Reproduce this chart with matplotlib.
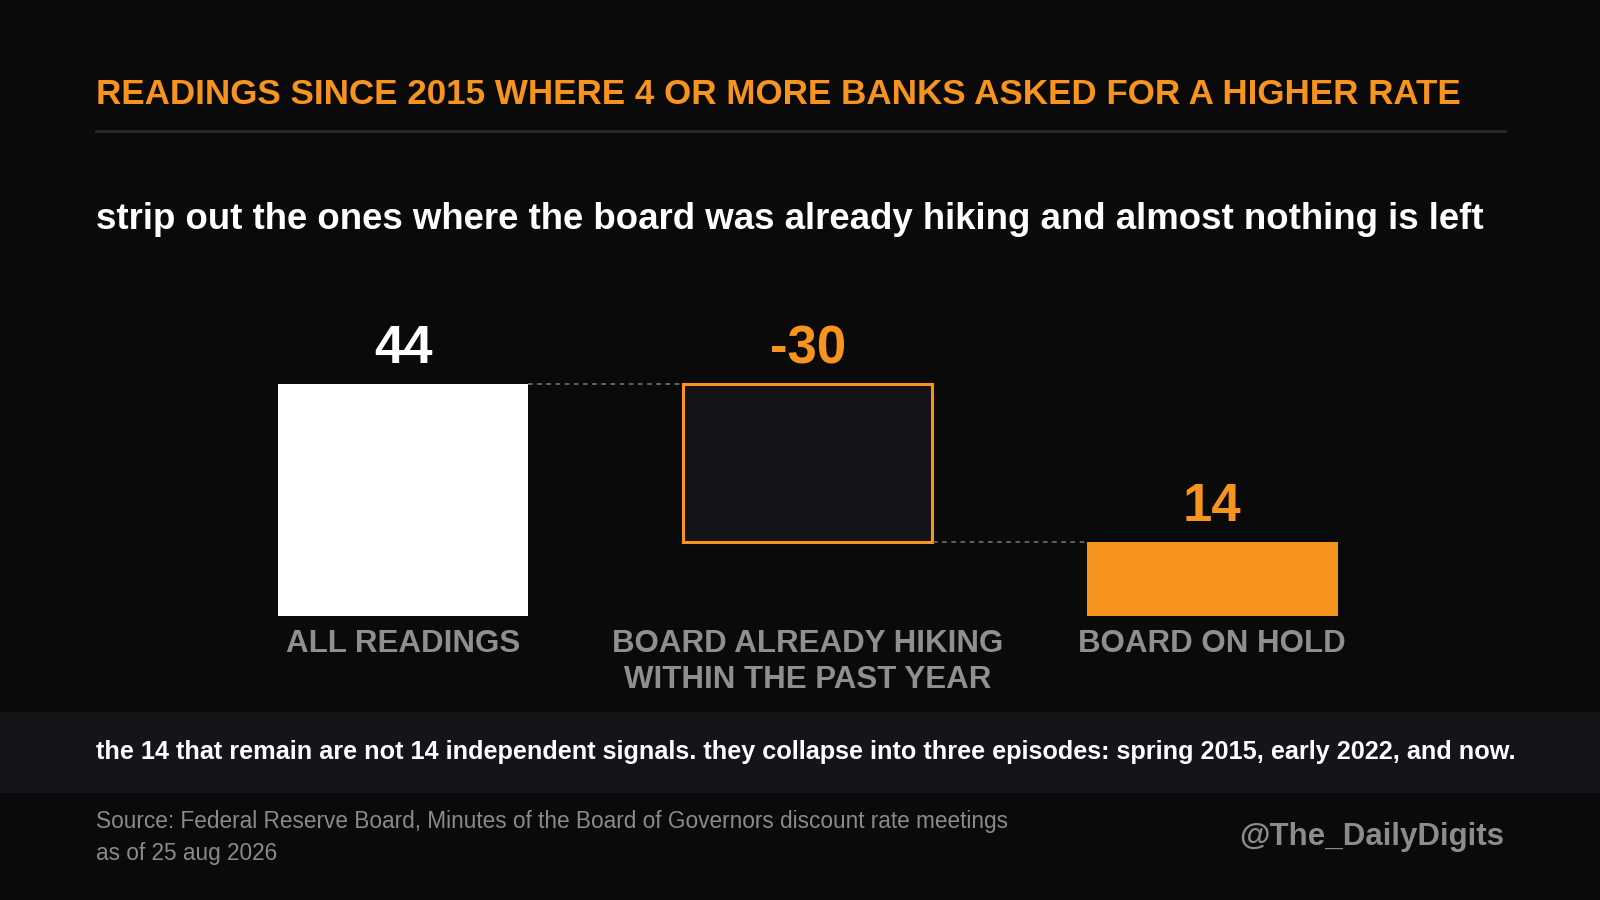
import matplotlib
matplotlib.use("Agg")
import matplotlib.pyplot as plt
import matplotlib.transforms as mtransforms
from matplotlib.lines import Line2D
from matplotlib.patches import Rectangle

# ---------------- data ----------------
categories = ["ALL READINGS", "BOARD ALREADY HIKING\nWITHIN THE PAST YEAR", "BOARD ON HOLD"]
values = [44, -30, 14]
value_labels = ["44", "-30", "14"]
kinds = ["total", "delta", "total"]

title = "READINGS SINCE 2015 WHERE 4 OR MORE BANKS ASKED FOR A HIGHER RATE"
subtitle = "strip out the ones where the board was already hiking and almost nothing is left"
band_note = ("the 14 that remain are not 14 independent signals. they collapse into three "
             "episodes: spring 2015, early 2022, and now.")
source_lines = ["Source: Federal Reserve Board, Minutes of the Board of Governors discount rate meetings",
                "as of 25 aug 2026"]
handle = "@The_DailyDigits"

# ---------------- style ----------------
BG = "#0a0a0a"
ORANGE = "#f7941d"
WHITE = "#ffffff"
GREY = "#8f8f8f"
BAND = "#141419"
DELTA_FILL = "#131318"
SEP = "#26262b"

plt.rcParams["font.family"] = ["Liberation Sans", "DejaVu Sans"]

W, H = 1600, 900
fig = plt.figure(figsize=(16, 9), dpi=100, facecolor=BG)


def fy(px):
    return 1 - px / H


def fx(px):
    return px / W


# header
fig.text(fx(96.5), fy(104), title, color=ORANGE, fontsize=25.2, fontweight="bold",
         ha="left", va="baseline")
fig.add_artist(Line2D([fx(95.5), fx(1505)], [fy(131.3), fy(131.3)], color=SEP, lw=2.2,
                      transform=fig.transFigure))
fig.text(fx(96.5), fy(228.8), subtitle, color=WHITE, fontsize=26.35, fontweight="bold",
         ha="left", va="baseline")

# bottom band
fig.add_artist(Rectangle((0, fy(792.7)), 1, (792.7 - 711.7) / H, transform=fig.transFigure,
                         facecolor=BAND, edgecolor="none", zorder=0))
fig.text(fx(96.5), fy(759.3), band_note, color=WHITE, fontsize=18.2, fontweight="bold",
         ha="left", va="baseline")

# footer
fig.text(fx(96.5), fy(828.3), source_lines[0], color="#8a8a8a", fontsize=16.3,
         ha="left", va="baseline")
fig.text(fx(96.5), fy(860), source_lines[1], color="#8a8a8a", fontsize=16.3,
         ha="left", va="baseline")
fig.text(fx(1504), fy(845), handle, color="#8c8c8c", fontsize=22.5, fontweight="bold",
         ha="right", va="baseline")

# ---------------- waterfall axes ----------------
ax = fig.add_axes([0.1255, 0.31611, 0.7585, 0.29267])
ax.set_facecolor("none")
ax.set_xlim(-0.5, 2.5)
ax.set_ylim(0, 50)
ax.axis("off")

bar_w = 0.62
running = 0
tops = []
bottoms = []
for i, (v, k) in enumerate(zip(values, kinds)):
    if k == "total":
        bottom, height = 0, v
        running = v
    else:
        bottom, height = running + v, -v
        running = running + v
    bottoms.append(bottom)
    tops.append(bottom + height)
    if i == 0:
        ax.bar(i, height, bottom=bottom, width=bar_w, color=WHITE, edgecolor="none")
    elif k == "delta":
        ax.bar(i, height, bottom=bottom, width=bar_w - 0.004, color=DELTA_FILL,
               edgecolor=ORANGE, linewidth=2.2)
    else:
        ax.bar(i, height, bottom=bottom, width=bar_w, color=ORANGE, edgecolor="none")

# connectors: from each bar's running level to the next bar
for i in range(len(values) - 1):
    level = bottoms[i] if kinds[i] == "delta" else tops[i]
    ax.plot([i + bar_w / 2, i + 1 - bar_w / 2], [level, level], color="#7a7a7a", lw=1.1,
            linestyle=(0, (3, 3)), dash_capstyle="butt")

# value labels
label_colors = [WHITE, ORANGE, ORANGE]
for i, (lab, top) in enumerate(zip(value_labels, tops)):
    ax.annotate(lab, xy=(i, top), xytext=(0, 14.9), textcoords="offset points",
                ha="center", va="baseline", fontsize=38, fontweight="bold",
                color=label_colors[i])

# category labels
blend = mtransforms.blended_transform_factory(ax.transData, fig.transFigure)
for i, cat in enumerate(categories):
    for j, line in enumerate(cat.split("\n")):
        ax.text(i, fy(651.7 + j * 36.6), line, transform=blend, ha="center", va="baseline",
                fontsize=22.5, fontweight="bold", color=GREY)

fig.savefig("out.png", dpi=100, facecolor=BG)
